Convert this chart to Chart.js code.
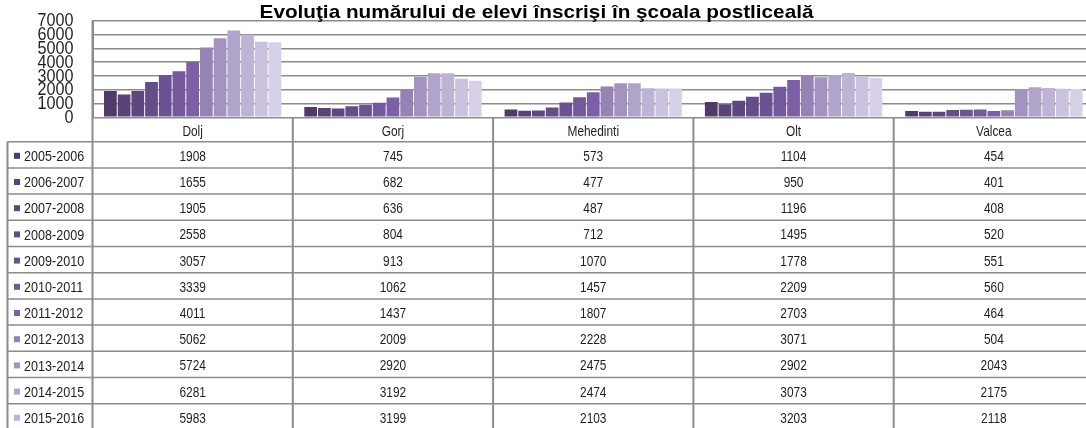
<!DOCTYPE html>
<html>
<head>
<meta charset="utf-8">
<script src="https://cdn.jsdelivr.net/npm/chart.js@4.4.1/dist/chart.umd.min.js"></script>
<style>
  html, body { margin: 0; padding: 0; background: #fff; overflow: hidden; }
  #wrap { width: 1094px; height: 428px; position: relative; }
</style>
</head>
<body>
<div id="wrap"><canvas id="c" width="1094" height="428"></canvas></div>
<script>
const titleText = 'Evoluţia numărului de elevi înscrişi în şcoala postliceală';
const categories = ['Dolj', 'Gorj', 'Mehedinti', 'Olt', 'Valcea'];
const seriesLabels = ['2005-2006', '2006-2007', '2007-2008', '2008-2009', '2009-2010', '2010-2011',
  '2011-2012', '2012-2013', '2013-2014', '2014-2015', '2015-2016', '2016-2017', '2017-2018'];
const dolj      = [1908, 1655, 1905, 2558, 3057, 3339, 4011, 5062, 5724, 6281, 5983, 5480, 5440];
const gorj      = [745, 682, 636, 804, 913, 1062, 1437, 2009, 2920, 3192, 3199, 2800, 2650];
const mehedinti = [573, 477, 487, 712, 1070, 1457, 1807, 2228, 2475, 2474, 2103, 2090, 2085];
const olt       = [1104, 950, 1196, 1495, 1778, 2209, 2703, 3071, 2902, 3073, 3203, 2990, 2850];
const valcea    = [454, 401, 408, 520, 551, 560, 464, 504, 2043, 2175, 2118, 2060, 2050];
const yTicks = [0, 1000, 2000, 3000, 4000, 5000, 6000, 7000];
const seriesColors = ['#4f3a6a', '#594377', '#5d477f', '#644d88', '#6b5392', '#73589b', '#7d5fa5',
  '#9683b5', '#a493c0', '#b1a4ca', '#beb3d4', '#cac2de', '#d7d1e7'];

const byCategory = [dolj, gorj, mehedinti, olt, valcea];
const datasets = seriesLabels.map((lab, i) => ({
  label: lab,
  data: byCategory.map(arr => arr[i]),
  backgroundColor: seriesColors[i],
  borderWidth: 0,
  barPercentage: 0.93,
  categoryPercentage: 0.89
}));

const FONT = "'Liberation Sans', Arial, sans-serif";
const LINE = '#8c8c8c';
const TEXT = '#1f1f1f';

function narrowText(ctx, txt, x, y, align, sx) {
  ctx.save();
  ctx.translate(x, y);
  ctx.scale(sx, 1);
  ctx.textAlign = align;
  ctx.fillText(txt, 0, 0);
  ctx.restore();
}

const tablePlugin = {
  id: 'dataTable',
  afterDraw(chart) {
    const ctx = chart.ctx;
    const area = chart.chartArea;
    const xs = chart.scales.x;
    const ys = chart.scales.y;
    const n = categories.length;
    const colW = (area.right - area.left) / n;
    const top = area.bottom;
    const headerH = 24.4;
    const rowH = 26.2;
    const legendLeft = 7.5;
    ctx.save();
    // title
    ctx.fillStyle = '#000';
    ctx.font = 'bold 18.5px ' + FONT;
    ctx.textBaseline = 'alphabetic';
    narrowText(ctx, titleText, 536.5, 18.3, 'center', 1.12);

    // y tick labels
    ctx.fillStyle = TEXT;
    ctx.font = '19px ' + FONT;
    ctx.textBaseline = 'middle';
    yTicks.forEach(v => {
      narrowText(ctx, String(v), 73.5, ys.getPixelForValue(v) + 0.5, 'right', 0.85);
    });

    // header row text
    ctx.font = '14.5px ' + FONT;
    categories.forEach((c, i) => {
      narrowText(ctx, c, xs.getPixelForValue(i), top + headerH / 2 + 2, 'center', 0.82);
    });
    // rows
    const rowsTop = top + headerH;
    seriesLabels.forEach((lab, r) => {
      const cy = rowsTop + r * rowH + rowH / 2 + 2;
      ctx.fillStyle = seriesColors[r];
      ctx.fillRect(14, cy - 4, 6, 6);
      ctx.fillStyle = TEXT;
      ctx.font = '15px ' + FONT;
      narrowText(ctx, lab, 24, cy, 'left', 0.84);
      ctx.font = '14.5px ' + FONT;
      byCategory.forEach((arr, i) => {
        narrowText(ctx, String(arr[r]), xs.getPixelForValue(i), cy, 'center', 0.82);
      });
    });
    // horizontal lines
    ctx.strokeStyle = LINE;
    ctx.lineWidth = 1.5;
    for (let r = 0; r <= seriesLabels.length; r++) {
      const y = rowsTop + r * rowH;
      ctx.beginPath();
      ctx.moveTo(legendLeft, y);
      ctx.lineTo(area.right, y);
      ctx.stroke();
    }
    // vertical lines
    ctx.lineWidth = 2;
    const bottom = rowsTop + seriesLabels.length * rowH;
    ctx.beginPath();
    ctx.moveTo(legendLeft, rowsTop);
    ctx.lineTo(legendLeft, bottom);
    ctx.stroke();
    for (let i = 0; i <= n; i++) {
      const x = area.left + i * colW;
      ctx.beginPath();
      ctx.moveTo(x, i === 0 ? area.top : top);
      ctx.lineTo(x, bottom);
      ctx.stroke();
    }
    ctx.restore();
  }
};

new Chart(document.getElementById('c'), {
  type: 'bar',
  data: { labels: categories, datasets },
  options: {
    responsive: false,
    animation: false,
    layout: { padding: { top: 20.7, right: 0, bottom: 428 - 117.3, left: 0 } },
    plugins: {
      legend: { display: false },
      title: { display: false },
      tooltip: { enabled: false }
    },
    scales: {
      x: { display: false },
      y: {
        min: 0,
        max: 7000,
        afterFit(scale) { scale.width = 92.5; },
        afterBuildTicks(scale) { scale.ticks = yTicks.map(v => ({ value: v })); },
        grid: { color: LINE, lineWidth: 1.5, drawTicks: false },
        border: { color: LINE, width: 2 },
        ticks: { display: false, autoSkip: false }
      }
    }
  },
  plugins: [tablePlugin]
});
</script>
</body>
</html>
